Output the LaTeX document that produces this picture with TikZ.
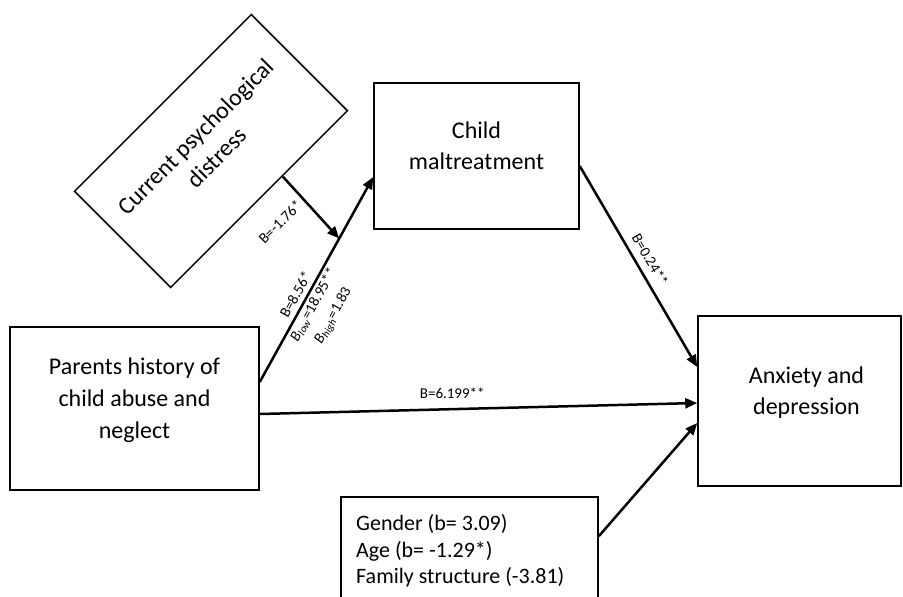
\documentclass[tikz,border=0pt]{standalone}
\usepackage{fontspec}
\setmainfont{Carlito}
\usetikzlibrary{arrows.meta,calc}
\begin{document}
\begin{tikzpicture}[x=1pt,y=-1pt,
  box/.style={draw,line width=1.5pt,rectangle,inner sep=0pt},
  big/.style={font=\fontsize{24}{31}\selectfont,align=center,inner sep=0pt},
  cov/.style={font=\fontsize{22}{26.5}\selectfont,align=left,inner sep=0pt},
  lbl/.style={font=\fontsize{15}{22}\selectfont,inner sep=2pt},
  arr/.style={line width=2.5pt,-{Triangle[length=12pt,width=10pt]}}]
\useasboundingbox (0,0) rectangle (903,597);
\clip (0,0) rectangle (903,597);
% boxes
\node[box,minimum width=249pt,minimum height=163pt] (parents) at (134.5,408.5) {};
\node[big,font=\fontsize{24}{32}\selectfont] (parentstxt) at (134.5,400) {Parents history of\\child abuse and\\neglect};
\node[box,minimum width=205pt,minimum height=146pt] (child) at (476.5,156) {};
\node[big] (childtxt) at (476.5,146) {Child\\maltreatment};
\node[box,minimum width=203pt,minimum height=170pt] (anx) at (799.5,401) {};
\node[big] (anxtxt) at (806.5,393) {Anxiety and\\depression};
\node[box,minimum width=257pt,minimum height=153pt] (cov) at (469.5,573.5) {};
\node[cov,anchor=west] (covtxt) at (356,551) {Gender (b= 3.09)\\Age (b= -1.29*)\\Family structure (-3.81)};
\node[box,minimum width=250pt,minimum height=136pt,rotate=45] (dist) at (211,151) {};
\node[big,font=\fontsize{24}{30}\selectfont,rotate=45] (disttxt) at (206,147) {Current psychological\\distress};
% connectors
\draw[arr] ([yshift=26.5pt]parents.east) -- coordinate[pos=0.70] (mod) ([yshift=-21pt]child.west)
  node[lbl,pos=0.4,sloped,above=2.5pt] (b1) {B=8.56*}
  node[lbl,pos=0.4,sloped,below=0pt,align=center] (b2) {\textit{B}\textsubscript{\textit{low}}=18.95**\\\textit{B}\textsubscript{\textit{high}}=1.83};
\draw[arr] ($(dist.south west)!0.63!(dist.south east)$) -- (mod);
\node[lbl,rotate=45] (b0) at (280,222) {B=-1.76*};
\draw[arr] ([yshift=-10pt]child.east) -- ([yshift=34pt]anx.west)
  node[lbl,pos=0.5,sloped,above=5pt] (b3) {B=0.24**};
\draw[arr] ([yshift=-5.5pt]parents.east) -- ([yshift=-2pt]anx.west)
  node[lbl,pos=0.44,above=7pt] (b4) {B=6.199**};
\draw[arr] ([yshift=-40pt]cov.north east) -- ([yshift=-22pt]anx.west);
\end{tikzpicture}
\end{document}
